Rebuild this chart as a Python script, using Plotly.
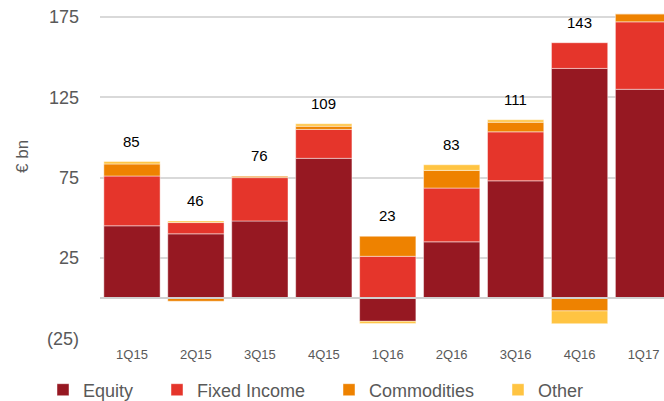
import plotly.graph_objects as go

categories = ["1Q15", "2Q15", "3Q15", "4Q15", "1Q16", "2Q16", "3Q16", "4Q16", "1Q17"]
equity = [45, 40, 48, 87, -14.5, 35, 73, 143, 130]
fixed_income = [31, 7, 27, 18, 26, 33.5, 30.5, 16, 42]
commodities = [7.5, -2, 1, 2, 12.5, 11, 6, -8, 5]
other = [1.5, 1, 0, 1.5, -1.3, 3.5, 1.5, -8, 0]
totals = [85, 46, 76, 109, 23, 83, 111, 143, 177]

y_tickvals = [-25, 25, 75, 125, 175]
y_ticktext = ["(25)", "25", "75", "125", "175"]

series = [
    ("Equity", equity, "#961822", "legend"),
    ("Fixed Income", fixed_income, "#E5352B", "legend2"),
    ("Commodities", commodities, "#EE8200", "legend3"),
    ("Other", other, "#FFC442", "legend4"),
]

FONT = "Liberation Sans, Arial, sans-serif"
GREY = "#595959"
W, H = 664, 401

fig = go.Figure()
for name, vals, color, lg in series:
    fig.add_trace(go.Bar(
        x=categories, y=vals, name=name, legend=lg, showlegend=True,
        marker=dict(color=color, line=dict(color="rgba(255,255,255,0.45)", width=1)),
    ))

# positive stack tops for label placement
pos_top = []
for i in range(len(categories)):
    s = sum(v[i] for _, v, _, _ in series if v[i] > 0)
    pos_top.append(s)

annotations = []
for c, t, top in zip(categories, totals, pos_top):
    annotations.append(dict(
        x=c, y=top, text=str(t), showarrow=False, yanchor="bottom", yshift=10,
        font=dict(family=FONT, size=15, color="#000000"),
    ))
plot_h = H - 62
annotations.append(dict(
    xref="paper", yref="paper", x=(22 - 100) / 564, y=(plot_h - 157) / plot_h,
    xanchor="center", yanchor="middle",
    text="€ bn", textangle=-90, showarrow=False,
    font=dict(family=FONT, size=17, color=GREY),
))

def legend_at(px_left):
    return dict(
        orientation="h", xref="container", yref="container",
        x=px_left / W, y=1 - 390 / H,
        xanchor="left", yanchor="middle",
        font=dict(family=FONT, size=18, color=GREY), bgcolor="rgba(0,0,0,0)",
    )

fig.update_layout(
    width=W, height=H,
    margin=dict(l=100, r=0, t=0, b=62, autoexpand=False),
    barmode="relative", bargap=0.12, showlegend=True,
    plot_bgcolor="white", paper_bgcolor="white",
    font=dict(family=FONT, color=GREY),
    annotations=annotations,
    legend=legend_at(43),
    legend2=legend_at(157),
    legend3=legend_at(329),
    legend4=legend_at(498),
)
fig.update_xaxes(
    range=[-0.5, 8.32], showgrid=False, ticks="", showline=False,
    tickfont=dict(family=FONT, size=13, color=GREY), ticklabelstandoff=6,
)
fig.update_yaxes(
    range=[-25.5, 185.6], tickvals=y_tickvals, ticktext=y_ticktext,
    gridcolor="#d9d9d9", gridwidth=2, zeroline=True, zerolinecolor="#d0d0d0",
    zerolinewidth=2, ticks="", showline=False,
    tickfont=dict(family=FONT, size=18, color=GREY), ticklabelstandoff=20,
)
try:
    fig.update_yaxes(zerolinelayer="above traces")
except Exception:
    pass

fig.write_html(
    "out.html",
    config={"displayModeBar": False},
    post_script="document.body.style.margin='0px';",
)
